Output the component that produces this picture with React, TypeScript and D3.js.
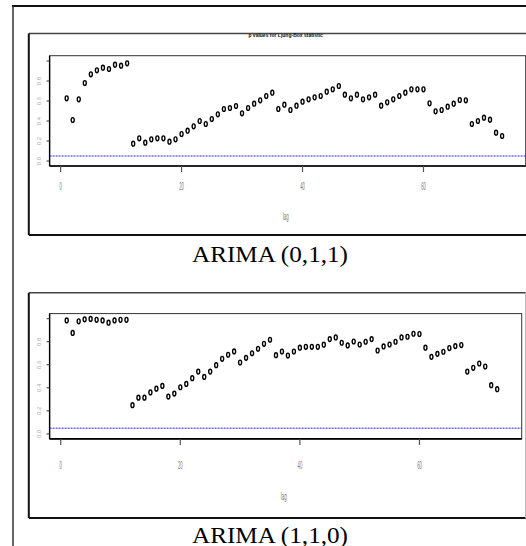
import React from "react";
import * as d3 from "d3";

// Ljung-Box p values, lags 1..73
const pArima011 = [
  0.627, 0.41, 0.617, 0.78, 0.867, 0.907, 0.933, 0.92, 0.963, 0.953, 0.977,
  0.173, 0.227, 0.183, 0.217, 0.227, 0.227, 0.193, 0.217, 0.27, 0.303, 0.347,
  0.4, 0.37, 0.42, 0.467, 0.52, 0.53, 0.55, 0.477, 0.53, 0.573, 0.607, 0.65,
  0.683, 0.52, 0.563, 0.51, 0.553, 0.593, 0.617, 0.637, 0.65, 0.693, 0.717,
  0.75, 0.663, 0.627, 0.663, 0.617, 0.637, 0.663, 0.553, 0.587, 0.617, 0.65,
  0.683, 0.717, 0.717, 0.717, 0.577, 0.497, 0.51, 0.543, 0.573, 0.61, 0.607,
  0.37, 0.4, 0.433, 0.413, 0.283, 0.25,
];

const pArima110 = [
  0.985, 0.876, 0.977, 0.994, 0.998, 0.99, 0.985, 0.965, 0.985, 0.99, 0.99,
  0.25, 0.315, 0.315, 0.36, 0.393, 0.417, 0.324, 0.35, 0.405, 0.434, 0.484,
  0.541, 0.495, 0.541, 0.597, 0.652, 0.687, 0.716, 0.62, 0.66, 0.7, 0.739,
  0.782, 0.817, 0.683, 0.715, 0.68, 0.715, 0.748, 0.756, 0.756, 0.756, 0.774,
  0.823, 0.837, 0.791, 0.768, 0.802, 0.776, 0.8, 0.823, 0.724, 0.759, 0.776,
  0.8, 0.837, 0.843, 0.869, 0.867, 0.748, 0.669, 0.695, 0.713, 0.745, 0.762,
  0.771, 0.541, 0.574, 0.611, 0.585, 0.423, 0.388,
];

const xTicks = [0, 20, 40, 60];
const yTicks = [0, 0.2, 0.4, 0.6, 0.8, 1.0];
const yTickLabels = ["0.0", "0.2", "0.4", "0.6", "0.8"];
const alpha = 0.05;

type Geo = {
  outer: [number, number, number, number];
  box: [number, number, number, number];
  xDomain: [number, number];
  yDomain: [number, number];
  tickLabelY: number;
  lagY: number;
  captionY: number;
  titleY: number;
  title: string;
};

const Panel = ({ values, caption, g }: { values: number[]; caption: string; g: Geo }) => {
  const [bl, bt, br, bb] = g.box;
  const x = d3.scaleLinear().domain(g.xDomain).range([bl, br]);
  const y = d3.scaleLinear().domain(g.yDomain).range([bb, bt]);
  const [ol, ot, or, ob] = g.outer;

  return (
    <g>
      {/* panel frame */}
      <line x1={ol} x2={or} y1={ot} y2={ot} stroke="#444" strokeWidth={1.6} />
      <line x1={ol} x2={or} y1={ob} y2={ob} stroke="#111" strokeWidth={2} />
      <line x1={ol} x2={ol} y1={ot} y2={ob} stroke="#111" strokeWidth={2} />
      <line x1={or} x2={or} y1={ot} y2={ob} stroke="#aaa" strokeWidth={1} />

      <text x={(bl + br) / 2 - 2} y={g.titleY} fontSize={5} fontWeight="bold"
        fontFamily="Liberation Sans, Arial" textAnchor="middle" fill="#111">{g.title}</text>

      {/* plot box */}
      <rect x={bl} y={bt} width={br - bl} height={bb - bt} fill="none" stroke="#333" strokeWidth={1} />
      <line x1={bl} x2={br} y1={bb} y2={bb} stroke="#000" strokeWidth={1.6} />
      <line x1={bl} x2={bl} y1={bt} y2={bb} stroke="#000" strokeWidth={1.4} />

      {/* y axis */}
      {yTicks.map((t) => (
        <line key={"yt" + t} x1={bl - 3} x2={bl} y1={y(t)} y2={y(t)} stroke="#333" strokeWidth={1} />
      ))}
      {yTickLabels.map((l) => (
        <text key={"yl" + l} transform={`translate(${bl - 9},${y(+l)}) rotate(-90)`}
          fontSize={6} fill="#aaa" textAnchor="middle" fontFamily="Liberation Sans, Arial">{l}</text>
      ))}

      {/* x axis */}
      {xTicks.map((t) => (
        <g key={"xt" + t}>
          <line x1={x(t)} x2={x(t)} y1={bb} y2={bb + 6} stroke="#555" strokeWidth={1.2} />
          <text transform={`translate(${x(t)},${g.tickLabelY}) scale(0.38,1)`} fontSize={11}
            fill="#777" textAnchor="middle" fontFamily="Liberation Sans, Arial">{t}</text>
        </g>
      ))}
      <text transform={`translate(${(bl + br) / 2 - 2},${g.lagY}) scale(0.4,1)`} fontSize={11}
        fill="#777" textAnchor="middle" fontFamily="Liberation Sans, Arial">lag</text>

      {/* significance line */}
      <line x1={bl} x2={br} y1={y(alpha)} y2={y(alpha)} stroke="#2222ee" strokeWidth={1} strokeDasharray="2,1" />

      {/* points */}
      {values.map((v, i) => (
        <ellipse key={i} cx={x(i + 1)} cy={y(v)} rx={1.5} ry={2.4} fill="#fff" stroke="#000" strokeWidth={1.4} />
      ))}

      <text x={270} y={g.captionY} fontSize={24} textLength={156} lengthAdjust="spacingAndGlyphs"
        fontFamily="Liberation Serif, Times New Roman, serif" textAnchor="middle" fill="#000">{caption}</text>
    </g>
  );
};

const topGeo: Geo = {
  outer: [28.8, 33.5, 527, 235],
  box: [49.6, 55.7, 525.7, 166],
  xDomain: [-1.82, 76.9],
  yDomain: [-0.05, 1.053],
  tickLabelY: 190,
  lagY: 220,
  captionY: 262,
  titleY: 37,
  title: "p values for Ljung-Box statistic",
};

const bottomGeo: Geo = {
  outer: [28.8, 292.8, 525.7, 518],
  box: [49.6, 313.6, 521.7, 438.9],
  xDomain: [-1.86, 77.1],
  yDomain: [-0.043, 1.044],
  tickLabelY: 469,
  lagY: 500,
  captionY: 542.5,
  titleY: 294,
  title: "",
};

export default function App() {
  return (
    <svg width={526} height={546} style={{ position: "absolute", left: 0, top: 0, background: "#fff" }}>
      <rect width={526} height={546} fill="#fff" />
      <line x1={12} x2={526} y1={6} y2={6} stroke="#111" strokeWidth={2} />
      <line x1={13} x2={13} y1={6} y2={546} stroke="#333" strokeWidth={1.5} />
      <Panel values={pArima011} caption="ARIMA (0,1,1)" g={topGeo} />
      <Panel values={pArima110} caption="ARIMA (1,1,0)" g={bottomGeo} />
    </svg>
  );
}
